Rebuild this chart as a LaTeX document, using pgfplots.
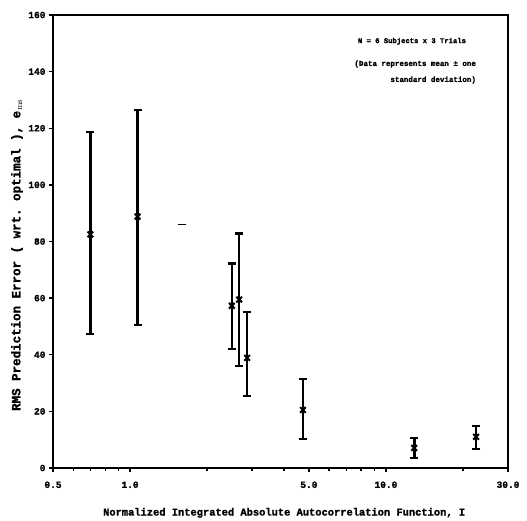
\documentclass[border=0pt]{standalone}
\usepackage{fontspec}
\setmonofont[BoldFeatures={FakeBold=1.5}]{Liberation Mono}
\usepackage{pgfplots}
\usepackage{pgfplotstable}
\pgfplotsset{compat=1.18}
\pgfplotstableread{
x     y     ep    em
0.70  82.5  36.1  35.1
1.07  88.8  37.6  38.2
2.50  57.3  14.9  15.2
2.67  59.5  23.3  23.4
2.87  38.9  16.3  13.4
4.74  20.5  11.0  10.2
12.9  7.1   3.5   3.6
22.5  11.0  3.9   4.3
}\datatable
\begin{document}
\begin{tikzpicture}[x=1pt,y=1pt]
\begin{axis}[
  at={(0,0)}, anchor=south west,
  scale only axis, width=455pt, height=453pt,
  xmode=log, xmin=0.5, xmax=30, ymin=0, ymax=160,
  xtick={0.5,1,5,10,30},
  xticklabels={0.5,1.0,5.0,10.0,30.0},
  minor xtick={0.6,0.7,0.8,0.9,2,3,4,6,7,8,9,20},
  ytick={0,20,40,60,80,100,120,140,160},
  tick align=outside, tick pos=left,
  major tick length=4pt, minor tick length=3pt,
  every tick/.style={line width=1.4pt, black},
  axis line style={line width=2.2pt},
  /pgf/number format/assume math mode=true,
  tick label style={font=\fontsize{9.5}{10}\selectfont\ttfamily\bfseries},
  xticklabel style={yshift=-6pt},
  log ticks with fixed point,
  xlabel={Normalized Integrated Absolute Autocorrelation Function, I},
  ylabel={RMS Prediction Error ( wrt. optimal ), e$_{\mathrm{ms}}$},
  every axis x label/.style={at={(axis description cs:0.508,-0.099)}, anchor=center, font=\fontsize{10.4}{11}\selectfont\ttfamily\bfseries},
  every axis y label/.style={at={(axis description cs:-0.079,0.47)}, anchor=center, rotate=90, font=\fontsize{12.5}{13}\selectfont\ttfamily\bfseries},
  clip=false,
]
\addplot[black, only marks, mark=x, mark size=4pt, line width=2pt,
  error bars/.cd, y dir=both, y explicit,
  error bar style={line width=2.6pt, black},
  error mark=|, error mark options={line width=2.2pt, mark size=4pt, black}]
  table[x=x, y=y, y error plus=ep, y error minus=em] {\datatable};
\addplot[black, only marks, mark=-, mark size=4pt, line width=1.8pt] coordinates {(1.6,86)};
\node[anchor=north east, align=right, font=\fontsize{7.2}{10}\selectfont\ttfamily\bfseries, inner sep=0pt]
  at (rel axis cs:0.908,0.95) {N = 6 Subjects x 3 Trials};
\node[anchor=north east, align=right, font=\fontsize{7.5}{16}\selectfont\ttfamily\bfseries, inner sep=0pt]
  at (rel axis cs:0.93,0.9) {(Data represents mean ± one\\standard deviation)};
\end{axis}
\pgfresetboundingbox
\path[use as bounding box] (-53,-53) rectangle (474,468);
\end{tikzpicture}
\end{document}
